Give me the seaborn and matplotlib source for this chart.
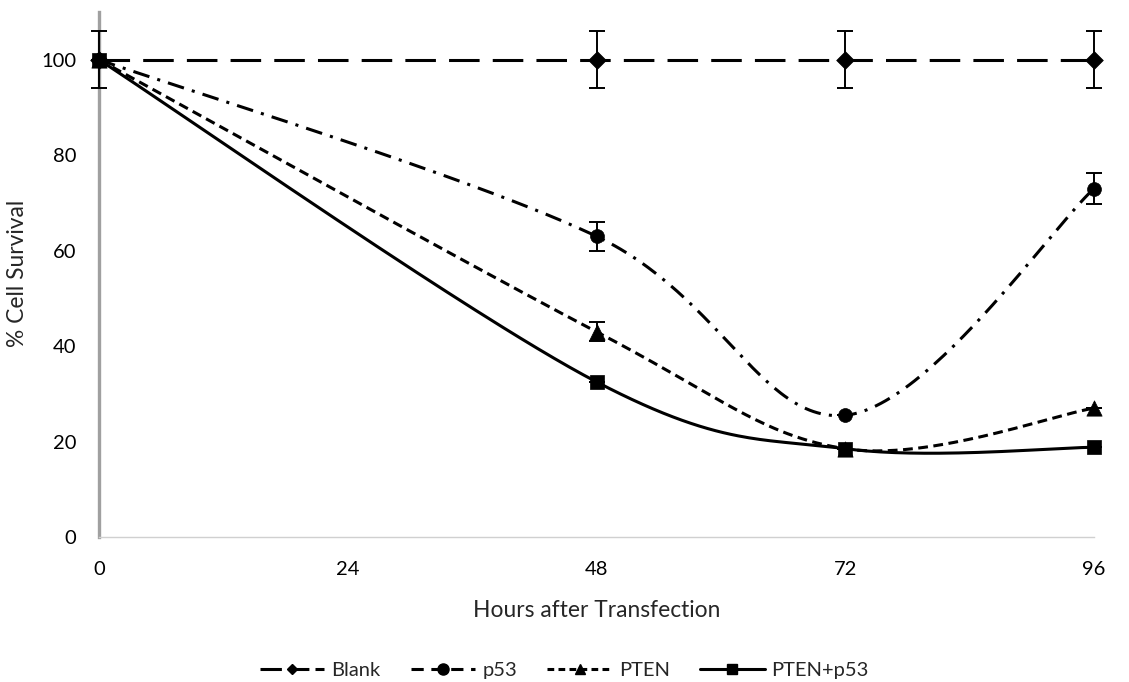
import numpy as np
import pandas as pd
import matplotlib
matplotlib.use("Agg")
import matplotlib.pyplot as plt
from matplotlib.lines import Line2D
import seaborn as sns

# ---- data ----
hours = [0, 48, 72, 96]
series_names = ["Blank", "p53", "PTEN", "PTEN+p53"]
blank = [100, 100, 100, 100]
p53 = [100, 63, 25.5, 73]
pten = [100, 43, 18.5, 27]
pten_p53 = [100, 32.5, 18.5, 18.8]
blank_err = [6, 6, 6, 6]
p53_err = [0, 3, 0, 3.3]
pten_err = [0, 2, 0, 0]
pten_p53_err = [0, 0, 0, 0]
x_ticks = [0, 24, 48, 72, 96]
y_ticks = [0, 20, 40, 60, 80, 100]

values = {"Blank": blank, "p53": p53, "PTEN": pten, "PTEN+p53": pten_p53}
errors = {"Blank": blank_err, "p53": p53_err, "PTEN": pten_err, "PTEN+p53": pten_p53_err}

markers = {"Blank": "D", "p53": "o", "PTEN": "^", "PTEN+p53": "s"}
msizes = {"Blank": 9, "p53": 10, "PTEN": 11, "PTEN+p53": 9.5}
leg_msizes = {"Blank": 5, "p53": 8, "PTEN": 7, "PTEN+p53": 6.5}
dashes = {"Blank": (10, 4.3), "p53": (5.5, 2.7, 1, 2.7), "PTEN": (3.2, 1.8), "PTEN+p53": None}
leg_dashes = {"Blank": (7, 2), "p53": (4, 2.5), "PTEN": (2.2, 1.4), "PTEN+p53": None}


def excel_smooth(xs, ys, n=60):
    """Render a smoothed line through the points (Catmull-Rom style Bezier, as Excel does)."""
    xs = np.asarray(xs, float)
    ys = np.asarray(ys, float)
    P = np.column_stack([xs, ys])
    out = []
    m = len(P)
    t = np.linspace(0, 1, n)[:, None]
    for i in range(m - 1):
        p0 = P[i - 1] if i > 0 else P[i]
        p1 = P[i]
        p2 = P[i + 1]
        p3 = P[i + 2] if i + 2 < m else P[i + 1]
        c1 = p1 + (p2 - p0) / 6.0
        c2 = p2 - (p3 - p1) / 6.0
        seg = ((1 - t) ** 3) * p1 + 3 * ((1 - t) ** 2) * t * c1 + 3 * (1 - t) * t ** 2 * c2 + t ** 3 * p2
        out.append(seg if i == 0 else seg[1:])
    arr = np.vstack(out)
    return arr[:, 0], arr[:, 1]


rows = []
for name in series_names:
    for h, v in zip(hours, values[name]):
        rows.append({"Hours": h, "Survival": v, "Series": name})
df = pd.DataFrame(rows)

sns.set_theme(style="white")
plt.rcParams["font.family"] = ["Lato", "DejaVu Sans"]

fig = plt.figure(figsize=(11.29, 6.82), dpi=100)
ax = fig.add_axes([99 / 1129, 145 / 682, 995 / 1129, 525 / 682])

lw = 2.2
for name in series_names:
    sx, sy = excel_smooth(hours, values[name])
    line, = ax.plot(sx, sy, color="black", lw=lw, clip_on=False, zorder=2)
    if dashes[name] is not None:
        line.set_dashes(dashes[name])
    line.set_dash_capstyle("butt")
    ax.errorbar(hours, values[name], yerr=errors[name], fmt="none", ecolor="black",
                elinewidth=1.4, capsize=6, capthick=1.4, clip_on=False, zorder=3)

for name in series_names:
    sub = df[df["Series"] == name]
    sns.scatterplot(data=sub, x="Hours", y="Survival", marker=markers[name], s=msizes[name] ** 2,
                    color="black", edgecolor="black", linewidth=0.5, ax=ax, clip_on=False,
                    zorder=4, legend=False)

ax.set_xlim(0, 96)
ax.set_ylim(0, 110)
ax.set_xticks(x_ticks)
ax.set_yticks(y_ticks)
ax.tick_params(axis="both", length=0, labelsize=14.5, colors="black")
ax.tick_params(axis="x", pad=17)
ax.tick_params(axis="y", pad=16.5)
ax.set_xlabel("Hours after Transfection", fontsize=16.4, labelpad=16)
ax.set_ylabel("% Cell Survival", fontsize=16.4)
ax.yaxis.set_label_coords((28 - 99) / 995, 0.502)

for s in ["top", "right"]:
    ax.spines[s].set_visible(False)
ax.spines["left"].set_color("#a0a0a0")
ax.spines["left"].set_linewidth(2.4)
ax.spines["bottom"].set_color("#d0d0d0")
ax.spines["bottom"].set_linewidth(1.0)
ax.grid(False)

handles = []
for name in series_names:
    h = Line2D([0], [0], color="black", lw=lw, marker=markers[name], markersize=leg_msizes[name])
    if leg_dashes[name] is not None:
        h.set_dashes(leg_dashes[name])
    handles.append(h)
fig.legend(handles, series_names, loc="center", bbox_to_anchor=(0.5, 12 / 682),
           ncol=4, frameon=False, fontsize=14.5, handlelength=3.2, columnspacing=1.5,
           handletextpad=0.35)

fig.savefig("out.png", dpi=100)
